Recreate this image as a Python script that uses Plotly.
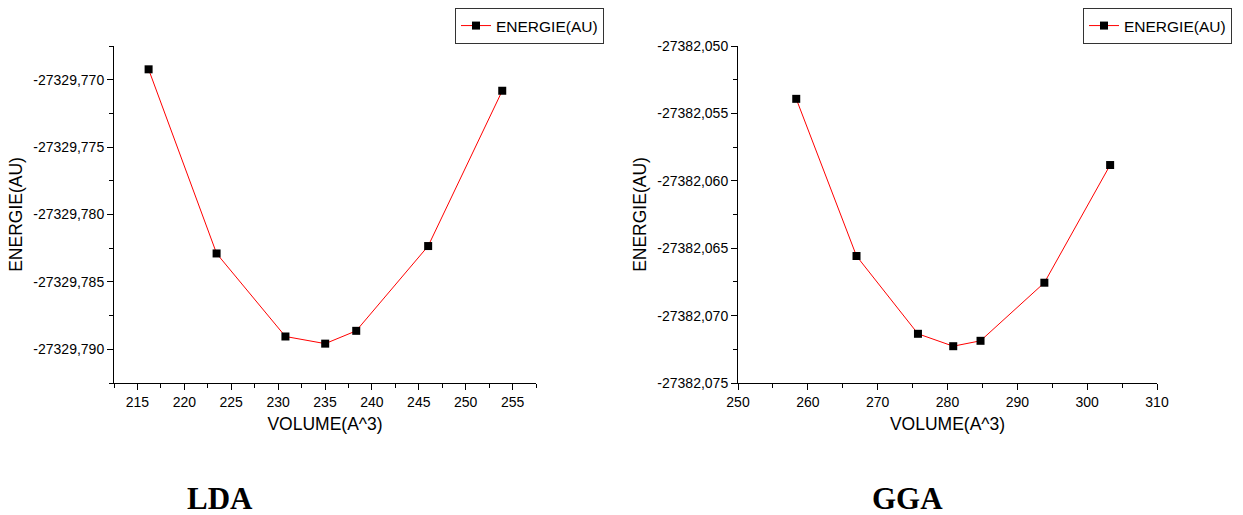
import plotly.graph_objects as go

# ---- data ----
lda_volume = [216.19, 223.44, 230.78, 235.02, 238.33, 246.00, 253.90]
lda_energy = [-27329.76923, -27329.78289, -27329.78905, -27329.78958,
              -27329.78863, -27329.78234, -27329.77082]

gga_volume = [258.34, 266.97, 275.77, 280.82, 284.73, 293.87, 303.29]
gga_energy = [-27382.05392, -27382.06558, -27382.07135, -27382.07227,
              -27382.07187, -27382.06756, -27382.05883]

lda_yticks = [-27329.770, -27329.775, -27329.780, -27329.785, -27329.790]
gga_yticks = [-27382.050, -27382.055, -27382.060, -27382.065, -27382.070, -27382.075]

series_name = "ENERGIE(AU)"
x_title = "VOLUME(A^3)"
y_title = "ENERGIE(AU)"
panel_labels = ["LDA", "GGA"]

W, H = 1243, 515
FONT = "Arial, Liberation Sans, sans-serif"


def px_x(p):
    return p / W


def px_y(p):
    return 1 - p / H


def fmt(v):
    return ("%.3f" % v).replace(".", ",")


fig = go.Figure()

marker = dict(symbol="square", size=8, color="black", line=dict(width=0))
line = dict(color="red", width=1)

fig.add_trace(go.Scatter(x=lda_volume, y=lda_energy, mode="lines+markers",
                         name=series_name, marker=marker, line=line,
                         xaxis="x", yaxis="y", legend="legend"))
fig.add_trace(go.Scatter(x=gga_volume, y=gga_energy, mode="lines+markers",
                         name=series_name, marker=marker, line=line,
                         xaxis="x2", yaxis="y2", legend="legend2"))

ydom = [px_y(383), px_y(46)]

axis_common = dict(showline=True, linecolor="black", linewidth=1,
                   showgrid=False, zeroline=False, ticks="outside",
                   ticklen=6, tickwidth=1, tickcolor="black",
                   tickfont=dict(family=FONT, size=14, color="black"),
                   mirror=False, automargin=False)
title_font = dict(family=FONT, size=17.5, color="black")

fig.update_layout(
    width=W, height=H,
    margin=dict(l=0, r=0, t=0, b=0, autoexpand=False),
    paper_bgcolor="white", plot_bgcolor="white",
    separators=",.",
    showlegend=True,
    xaxis=dict(domain=[px_x(114), px_x(536)], range=[212.5, 257.5],
               dtick=5, tick0=215, anchor="y",
               minor=dict(dtick=2.5, ticklen=4, ticks="outside", tickcolor="black"),
               title=dict(text=x_title, font=title_font, standoff=8),
               **axis_common),
    yaxis=dict(domain=ydom, range=[-27329.7925, -27329.7675],
               tickmode="array", tickvals=lda_yticks,
               ticktext=[fmt(v) for v in lda_yticks], anchor="x",
               minor=dict(tickmode="linear", dtick=0.0025, tick0=-27329.770,
                          ticklen=4, ticks="outside", tickcolor="black"),
               title=dict(text=y_title, font=title_font, standoff=6),
               **axis_common),
    xaxis2=dict(domain=[px_x(738), px_x(1157)], range=[250, 310],
                dtick=10, tick0=250, anchor="y2",
                minor=dict(dtick=5, ticklen=4, ticks="outside", tickcolor="black"),
                title=dict(text=x_title, font=title_font, standoff=8),
                **axis_common),
    yaxis2=dict(domain=ydom, range=[-27382.075, -27382.050],
                tickmode="array", tickvals=gga_yticks,
                ticktext=[fmt(v) for v in gga_yticks], anchor="x2",
                minor=dict(tickmode="linear", dtick=0.0025, tick0=-27382.050,
                           ticklen=4, ticks="outside", tickcolor="black"),
                title=dict(text=y_title, font=title_font, standoff=6),
                **axis_common),
    legend=dict(x=px_x(604), y=px_y(8), xanchor="right", yanchor="top",
                bgcolor="white", bordercolor="#333333", borderwidth=1,
                font=dict(family=FONT, size=15.5, color="black"),
                tracegroupgap=0, itemwidth=30),
    legend2=dict(x=px_x(1232), y=px_y(8), xanchor="right", yanchor="top",
                 bgcolor="white", bordercolor="#333333", borderwidth=1,
                 font=dict(family=FONT, size=15.5, color="black"),
                 tracegroupgap=0, itemwidth=30),
)

for label, cx in zip(panel_labels, [220, 907]):
    fig.add_annotation(text="<b>%s</b>" % label, x=px_x(cx), y=px_y(498),
                       xref="paper", yref="paper", xanchor="center", yanchor="middle",
                       showarrow=False,
                       font=dict(family="Times New Roman, Liberation Serif, serif", size=31, color="black"))

fig.write_html("out.html")
